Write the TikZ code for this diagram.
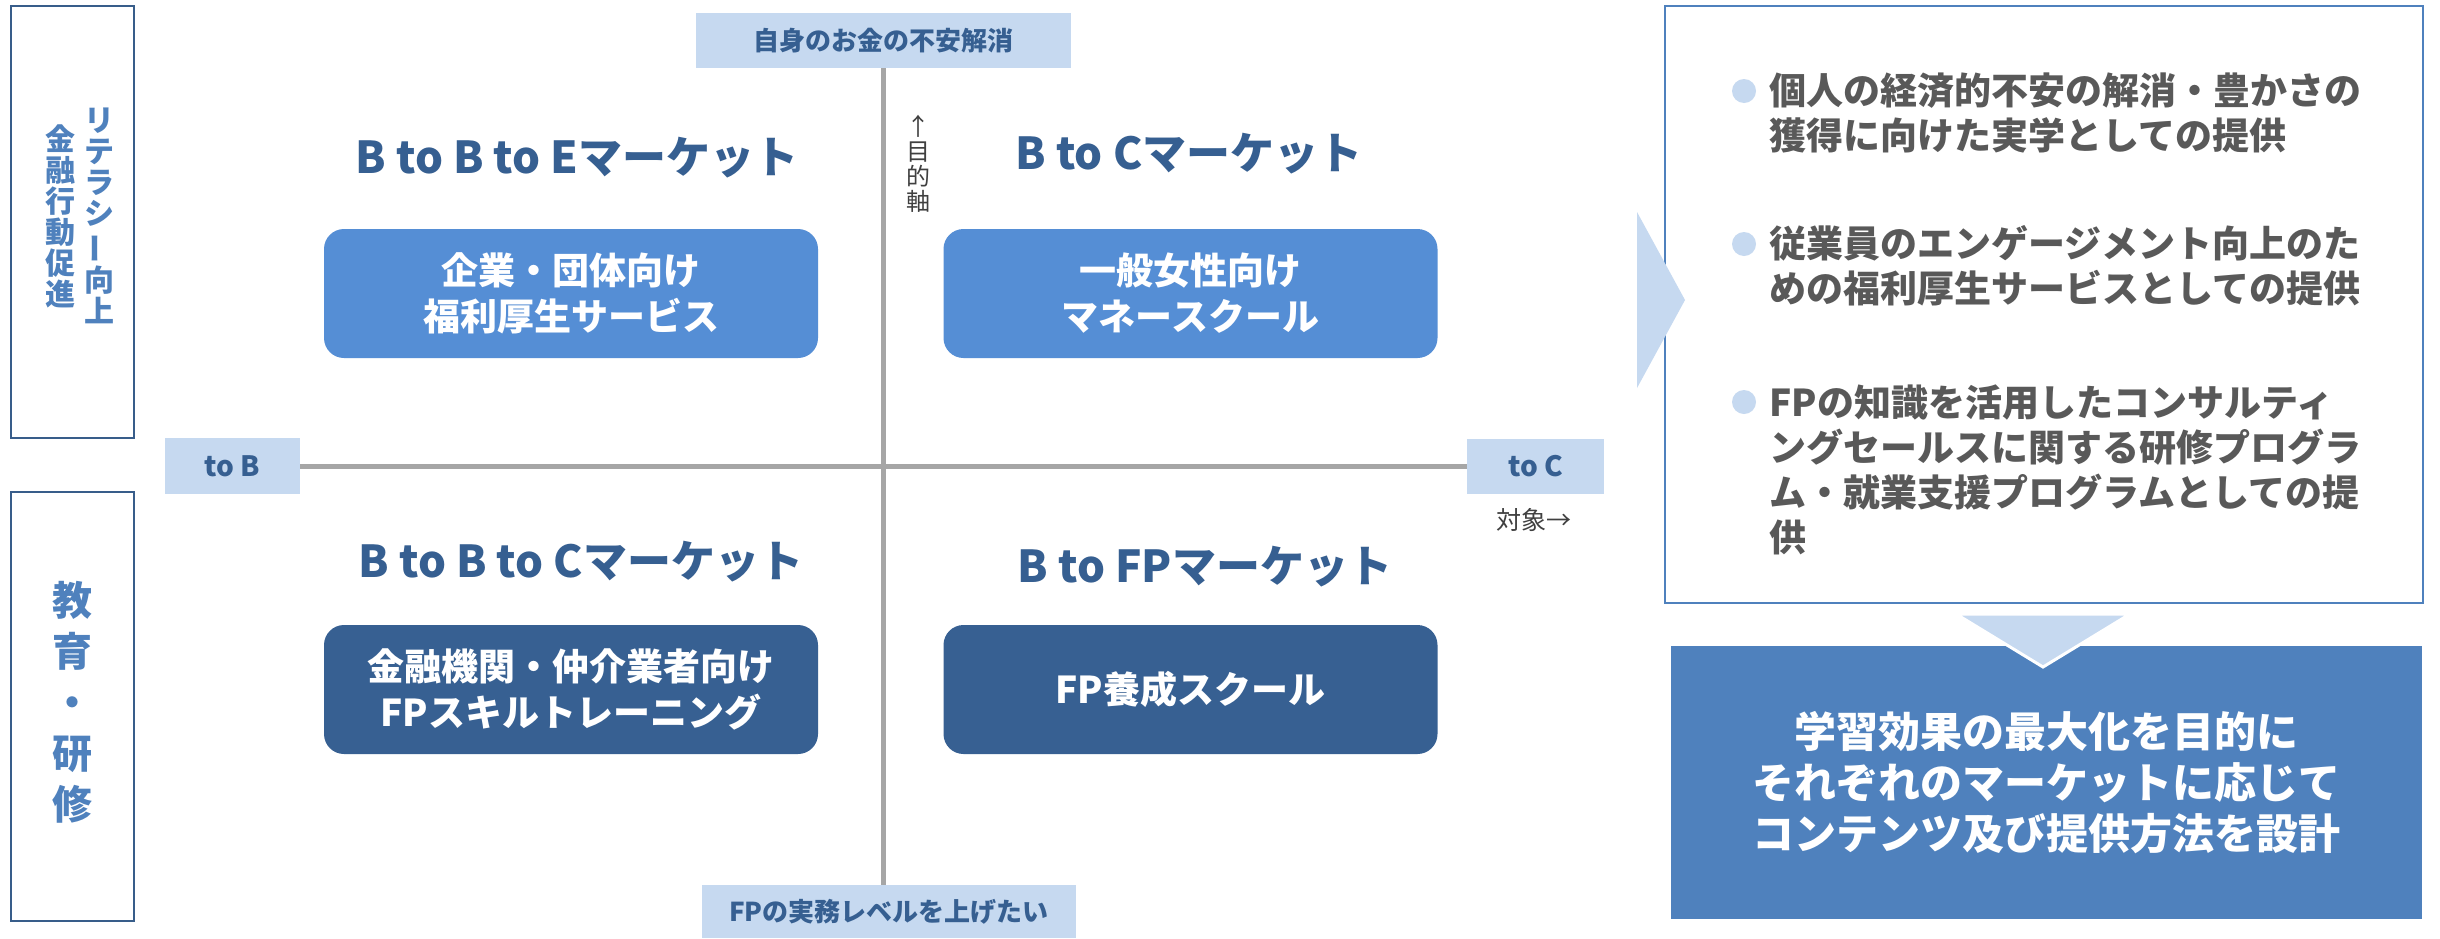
\documentclass[tikz,border=0pt]{standalone}
\usepackage{fontspec}
\usepackage{graphicx}
\setmainfont{Noto Sans CJK JP}
\definecolor{lblue}{HTML}{C6D9F0}
\definecolor{headblue}{HTML}{365F91}
\definecolor{qlight}{HTML}{558ED5}
\definecolor{qdark}{HTML}{376092}
\definecolor{sideborder}{HTML}{385D8A}
\definecolor{sidetext}{HTML}{4F81BD}
\definecolor{accent}{HTML}{4F81BD}
\definecolor{axisgray}{HTML}{A6A6A6}
\definecolor{gtext}{HTML}{595959}
\definecolor{dtext}{HTML}{404040}
\tikzset{
  sidebox/.style={draw=sideborder, line width=1pt, minimum width=61.5pt, inner sep=0pt},
  vtext/.style={text=sidetext, align=center, inner sep=0pt, font=\fontsize{15}{15.5}\selectfont\bfseries},
  vtextbig/.style={text=sidetext, align=center, inner sep=0pt, font=\fontsize{20}{25.5}\selectfont\bfseries},
  lbl/.style={fill=lblue, inner sep=0pt, text=headblue, font=\fontsize{13}{15}\selectfont\bfseries},
  axisline/.style={draw=axisgray, line width=2.5pt},
  quadbox/.style={rounded corners=10pt, minimum width=247pt, minimum height=64.5pt, inner sep=0pt, text=white, align=center, font=\fontsize{18.5}{23}\selectfont\bfseries},
  quadL/.style={quadbox, fill=qlight},
  quadD/.style={quadbox, fill=qdark},
  head/.style={text=headblue, anchor=base, inner sep=0pt, font=\fontsize{22}{26}\selectfont\bfseries},
  smalltext/.style={text=dtext, inner sep=0pt, align=center, font=\fontsize{12}{12.5}\selectfont},
  bulletdot/.style={circle, fill=lblue, minimum size=12pt, inner sep=0pt},
  btext/.style={text=gtext, align=left, anchor=west, inner sep=0pt, font=\fontsize{18.5}{22.5}\selectfont\bfseries}
}
\begin{document}
\begin{tikzpicture}[x=0.5pt,y=-0.5pt]
\useasboundingbox (0,0) rectangle (2440,938);
\fill[white] (0,0) rectangle (2440,938);

% left side boxes
\node[sidebox, minimum height=216pt] (lt) at (72.5,222) {};
\node[vtext] (lt1) at (99,216) {リ\\テ\\ラ\\シ\\\rotatebox[origin=c]{90}{ー}\\向\\上};
\node[vtext] (lt2) at (61,216) {金\\融\\行\\動\\促\\進};
\node[sidebox, minimum height=214.5pt] (lb) at (72.5,706.5) {};
\node[vtextbig] (lbt) at (72,702) {教\\育\\・\\研\\修};

% axis labels
\node[lbl, minimum width=187.5pt, minimum height=27.5pt] (top) at (883.5,40.5) {自身のお金の不安解消};
\node[lbl, minimum width=187pt, minimum height=26.5pt] (bot) at (889,911.5) {FPの実務レベルを上げたい};
\node[lbl, minimum width=67.5pt, minimum height=28pt, font=\fontsize{14}{16}\selectfont\bfseries] (tob) at (232.5,466) {to B};
\node[lbl, minimum width=68.5pt, minimum height=27.5pt, font=\fontsize{14}{16}\selectfont\bfseries] (toc) at (1535.5,466.5) {to C};

% axes
\draw[axisline] (top.south) -- (top.south |- bot.north);
\draw[axisline] (tob.east) -- (tob.east -| toc.west);

\node[smalltext] (axv) at (918,164) {↑\\目\\的\\軸};
\node[smalltext, font=\fontsize{12.5}{14}\selectfont] (axh) at (1534,520) {対象→};

% quadrants
\node[head] (htl) at (577,173) {B to B to Eマーケット};
\node[head] (htr) at (1189,169) {B to Cマーケット};
\node[head] (hbl) at (581,577) {B to B to Cマーケット};
\node[head] (hbr) at (1205,582) {B to FPマーケット};
\node[quadL] (qtl) at (571,293.5) {企業・団体向け\\福利厚生サービス};
\node[quadL] (qtr) at (1190.5,293.5) {一般女性向け\\マネースクール};
\node[quadD] (qbl) at (571,689.5) {金融機関・仲介業者向け\\FPスキルトレーニング};
\node[quadD] (qbr) at (1190.5,689.5) {FP養成スクール};

% right box
\node[draw=accent, line width=1pt, fill=white, minimum width=379pt, minimum height=298.5pt, inner sep=0pt] (rb) at (2044,304.5) {};
\fill[lblue] (1637,212) -- (1685,300) -- (1637,388) -- cycle;
\node[bulletdot] (b1) at (1744,91) {};
\node[bulletdot] (b2) at (1744,244) {};
\node[bulletdot] (b3) at (1744,402) {};
\node[btext] (t1) at (1769,112.5) {個人の経済的不安の解消・豊かさの\\獲得に向けた実学としての提供};
\node[btext] (t2) at (1769,266) {従業員のエンゲージメント向上のた\\めの福利厚生サービスとしての提供};
\node[btext] (t3) at (1769,469.5) {FPの知識を活用したコンサルティ\\ングセールスに関する研修プログラ\\ム・就業支援プログラムとしての提\\供};

% bottom box
\node[fill=accent, minimum width=375.5pt, minimum height=136.5pt, inner sep=0pt, text=white, align=center, font=\fontsize{21}{25.5}\selectfont\bfseries] (bb) at (2046.5,782.5) {学習効果の最大化を目的に\\それぞれのマーケットに応じて\\コンテンツ及び提供方法を設計};
\filldraw[fill=lblue, draw=white, line width=1.5pt] (1956,614) -- (2130,614) -- (2043,667) -- cycle;
\end{tikzpicture}
\end{document}
